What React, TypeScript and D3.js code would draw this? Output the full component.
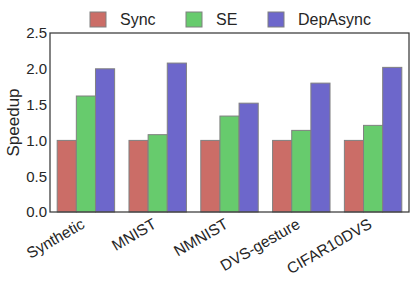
import React from "react";
import * as d3 from "d3";

const categories = ["Synthetic", "MNIST", "NMNIST", "DVS-gesture", "CIFAR10DVS"];
const seriesNames = ["Sync", "SE", "DepAsync"];
const syncValues = [1.0, 1.0, 1.0, 1.0, 1.0];
const seValues = [1.62, 1.08, 1.34, 1.14, 1.21];
const depAsyncValues = [2.0, 2.08, 1.52, 1.8, 2.02];
const seriesColors = ["#cb6d67", "#67cb6d", "#6d67cb"];
const yTicks = [0, 0.5, 1.0, 1.5, 2.0, 2.5];

const W = 415;
const H = 282;
const M = { left: 50, right: 6, top: 33, bottom: 70 };

export default function App() {
  const series = [syncValues, seValues, depAsyncValues];
  const x0 = d3
    .scaleBand<string>()
    .domain(categories)
    .range([M.left, W - M.right])
    .paddingInner(0.2)
    .paddingOuter(0.1);
  const x1 = d3
    .scaleBand<string>()
    .domain(seriesNames)
    .range([0, x0.bandwidth()]);
  const y = d3.scaleLinear().domain([0, 2.5]).range([H - M.bottom, M.top]);
  const font = "'Liberation Sans', Arial, sans-serif";
  const legendX = [90, 186, 268];

  return (
    <svg width={W} height={H} style={{ position: "absolute", left: 0, top: 0 }} fontFamily={font}>
      <rect x={0} y={0} width={W} height={H} fill="white" />
      {categories.map((c, i) =>
        seriesNames.map((s, j) => (
          <rect
            key={c + s}
            x={(x0(c) ?? 0) + (x1(s) ?? 0)}
            y={y(series[j][i])}
            width={x1.bandwidth()}
            height={y(0) - y(series[j][i])}
            fill={seriesColors[j]}
            stroke="#808080"
            strokeWidth={1}
          />
        ))
      )}
      <rect
        x={M.left}
        y={M.top}
        width={W - M.right - M.left}
        height={H - M.bottom - M.top}
        fill="none"
        stroke="#3a3a3a"
        strokeWidth={1.25}
      />
      {yTicks.map((t) => (
        <text
          key={t}
          x={M.left - 3}
          y={y(t)}
          dy="0.36em"
          textAnchor="end"
          fontSize={15}
          fill="#262626"
        >
          {d3.format(".1f")(t)}
        </text>
      ))}
      {categories.map((c) => {
        const cx = (x0(c) ?? 0) + x0.bandwidth() / 2;
        return (
          <text
            key={c}
            transform={`translate(${cx - 6},${H - M.bottom + 5}) rotate(-30)`}
            textAnchor="end"
            dy="0.75em"
            fontSize={15.5}
            fill="#262626"
          >
            {c}
          </text>
        );
      })}
      <text
        transform={`translate(13,${(M.top + H - M.bottom) / 2}) rotate(-90)`}
        textAnchor="middle"
        dy="0.35em"
        fontSize={17}
        fill="#262626"
      >
        Speedup
      </text>
      {seriesNames.map((s, j) => (
        <g key={s}>
          <rect
            x={legendX[j]}
            y={12}
            width={16}
            height={15}
            fill={seriesColors[j]}
            stroke="#808080"
            strokeWidth={1}
          />
          <text x={legendX[j] + 30} y={24.5} fontSize={16} fill="#262626">
            {s}
          </text>
        </g>
      ))}
    </svg>
  );
}
